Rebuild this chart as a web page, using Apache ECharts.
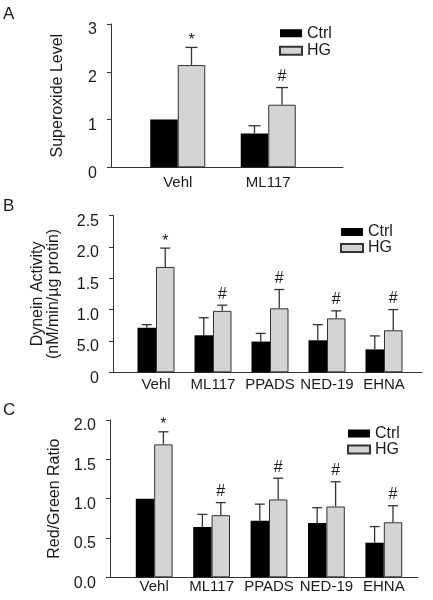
<!DOCTYPE html>
<html>
<head>
<meta charset="utf-8">
<script src="https://cdn.jsdelivr.net/npm/echarts@6/dist/echarts.min.js"></script>
<style>html,body{margin:0;padding:0;background:#fff}#c{width:433px;height:600px}</style>
</head>
<body>
<div id="c"></div>
<script>
// ---------- data ----------
const seriesNames = ['Ctrl', 'HG'];

const catsA = ['Vehl', 'ML117'];
const ctrlA = [1.0, 0.71];
const ctrlErrA = [null, 0.87];
const hgA = [2.14, 1.31];
const hgErrA = [2.51, 1.67];
const marksA = ['*', '#'];
const ticksA = ['0', '1', '2', '3'];

const catsB = ['Vehl', 'ML117', 'PPADS', 'NED-19', 'EHNA'];
const ctrlB = [0.71, 0.59, 0.49, 0.51, 0.365];
const ctrlErrB = [0.76, 0.87, 0.62, 0.76, 0.58];
const hgB = [1.68, 0.98, 1.02, 0.86, 0.67];
const hgErrB = [1.98, 1.07, 1.32, 0.98, 1.0];
const marksB = ['*', '#', '#', '#', '#'];
const ticksB = ['0', '5.0', '1.0', '1.5', '2.0', '2.5'];

const catsC = ['Vehl', 'ML117', 'PPADS', 'NED-19', 'EHNA'];
const ctrlC = [1.0, 0.64, 0.72, 0.69, 0.44];
const ctrlErrC = [null, 0.80, 0.93, 0.885, 0.645];
const hgC = [1.69, 0.79, 0.99, 0.90, 0.70];
const hgErrC = [1.85, 0.95, 1.26, 1.215, 0.91];
const marksC = ['*', '#', '#', '#', '#'];
const ticksC = ['0.0', '0.5', '1.0', '1.5', '2.0'];

// ---------- layout / style ----------
const FONT = '"Liberation Sans", Arial, sans-serif';
const TXT = '#1a1a1a';
const AX = '#333';

const panels = [
  { letter: 'A', cats: catsA, ctrl: ctrlA, ctrlErr: ctrlErrA, hg: hgA, hgErr: hgErrA, marks: marksA, ticks: ticksA,
    max: 3, interval: 1, name: 'Superoxide Level', nameGap: 45, nameLH: 16,
    frame: { left: 111, right: 90, top: 24, height: 143.3 },
    bars: { left: 132.5, width: 181 }, bw: 27.5, cap: 12, xMargin: 8,
    legend: { left: 279, top: 24.5, lh: 17.5 }, title: { top: 6 } },
  { letter: 'B', cats: catsB, ctrl: ctrlB, ctrlErr: ctrlErrB, hg: hgB, hgErr: hgErrB, marks: marksB, ticks: ticksB,
    max: 2.5, interval: 0.5, name: 'Dynein Activity\n(nM/min/µg protin)', nameGap: 51, nameLH: 16,
    frame: { left: 113, right: 11, top: 215.5, height: 156.8 },
    bars: { left: 127.5, width: 285 }, bw: 18.5, cap: 10, xMargin: 5,
    legend: { left: 340, top: 224, lh: 15 }, title: { top: 198 } },
  { letter: 'C', cats: catsC, ctrl: ctrlC, ctrlErr: ctrlErrC, hg: hgC, hgErr: hgErrC, marks: marksC, ticks: ticksC,
    max: 2, interval: 0.5, name: 'Red/Green Ratio', nameGap: 46, nameLH: 16,
    frame: { left: 110, right: 15, top: 420, height: 157.3 },
    bars: { left: 125.5, width: 287 }, bw: 18.4, cap: 10, xMargin: 2,
    legend: { left: 347, top: 425.5, lh: 15 }, title: { top: 402 } }
];

const grid = [], xAxis = [], yAxis = [], series = [], legend = [], title = [];

function errRenderer(sign, bw, cap, marks) {
  return function (params, api) {
    const i = api.value(0);
    const base = api.coord([i, api.value(1)]);
    const tp = api.coord([i, api.value(2)]);
    const x = base[0] + sign * bw / 2;
    const style = { stroke: AX, lineWidth: 1.3 };
    const children = [
      { type: 'line', shape: { x1: x, y1: base[1], x2: x, y2: tp[1] }, style },
      { type: 'line', shape: { x1: x - cap / 2, y1: tp[1], x2: x + cap / 2, y2: tp[1] }, style }
    ];
    const m = marks ? marks[i] : null;
    if (m) {
      children.push({ type: 'text', x: x, y: tp[1] - 3 + (m === '*' ? 4 : 0),
        style: { text: m, fill: TXT, font: '16px ' + FONT, align: 'center', verticalAlign: 'bottom' } });
    }
    return { type: 'group', children };
  };
}

panels.forEach((p, k) => {
  const gf = 2 * k, gb = 2 * k + 1;
  grid.push({ left: p.frame.left, right: p.frame.right, top: p.frame.top, height: p.frame.height });
  grid.push({ left: p.bars.left, width: p.bars.width, top: p.frame.top, height: p.frame.height });

  xAxis.push({ gridIndex: gf, type: 'value', min: 0, max: 1,
    axisLine: { show: true, lineStyle: { color: AX, width: 1 } },
    axisTick: { show: false }, axisLabel: { show: false }, splitLine: { show: false } });
  xAxis.push({ gridIndex: gb, type: 'category', data: p.cats,
    axisLine: { show: false }, axisTick: { show: false },
    axisLabel: { color: TXT, fontFamily: FONT, fontSize: 15, margin: p.xMargin, interval: 0 } });

  yAxis.push({ gridIndex: gf, type: 'value', min: 0, max: p.max, interval: p.interval,
    name: p.name, nameLocation: 'middle', nameGap: p.nameGap, nameRotate: 90,
    nameTextStyle: { color: TXT, fontFamily: FONT, fontSize: 16, lineHeight: p.nameLH },
    axisLine: { show: true, lineStyle: { color: AX, width: 1 } },
    axisTick: { show: true, length: 4, lineStyle: { color: AX } },
    splitLine: { show: false },
    axisLabel: { color: TXT, fontFamily: FONT, fontSize: 16, margin: 14, verticalAlign: 'top', lineHeight: 12,
      formatter: (v) => p.ticks[Math.round(v / p.interval)] } });
  yAxis.push({ gridIndex: gb, type: 'value', min: 0, max: p.max, interval: p.interval, show: false });

  series.push({ name: 'Ctrl', type: 'bar', xAxisIndex: gb, yAxisIndex: gb, data: p.ctrl,
    barWidth: p.bw, barGap: '0%', itemStyle: { color: '#000' } });
  series.push({ name: 'HG', type: 'bar', xAxisIndex: gb, yAxisIndex: gb, data: p.hg,
    barWidth: p.bw, barGap: '0%', itemStyle: { color: '#d4d4d4', borderColor: '#333', borderWidth: 1 } });

  const ctrlErrData = p.cats.map((c, i) => [i, p.ctrl[i], p.ctrlErr[i]]).filter(d => d[2] != null);
  const hgErrData = p.cats.map((c, i) => [i, p.hg[i], p.hgErr[i]]).filter(d => d[2] != null);
  series.push({ type: 'custom', xAxisIndex: gb, yAxisIndex: gb, data: ctrlErrData,
    encode: { x: 0, y: [1, 2] }, renderItem: errRenderer(-1, p.bw, p.cap, null), z: 5 });
  series.push({ type: 'custom', xAxisIndex: gb, yAxisIndex: gb, data: hgErrData,
    encode: { x: 0, y: [1, 2] }, renderItem: errRenderer(1, p.bw, p.cap, p.marks), z: 5 });

  legend.push({ data: seriesNames, orient: 'vertical', left: p.legend.left, top: p.legend.top,
    padding: 0, icon: 'rect', itemWidth: 22, itemHeight: 8, itemGap: 0, selectedMode: false,
    textStyle: { color: TXT, fontFamily: FONT, fontSize: 16, lineHeight: p.legend.lh } });

  title.push({ text: p.letter, left: 3, top: p.title.top, padding: 0,
    textStyle: { color: TXT, fontFamily: FONT, fontSize: 17, fontWeight: 'normal' } });
});

const chart = echarts.init(document.getElementById('c'), null, { renderer: 'canvas' });
chart.setOption({ animation: false, backgroundColor: '#fff', title, grid, xAxis, yAxis, series, legend });
</script>
</body>
</html>
